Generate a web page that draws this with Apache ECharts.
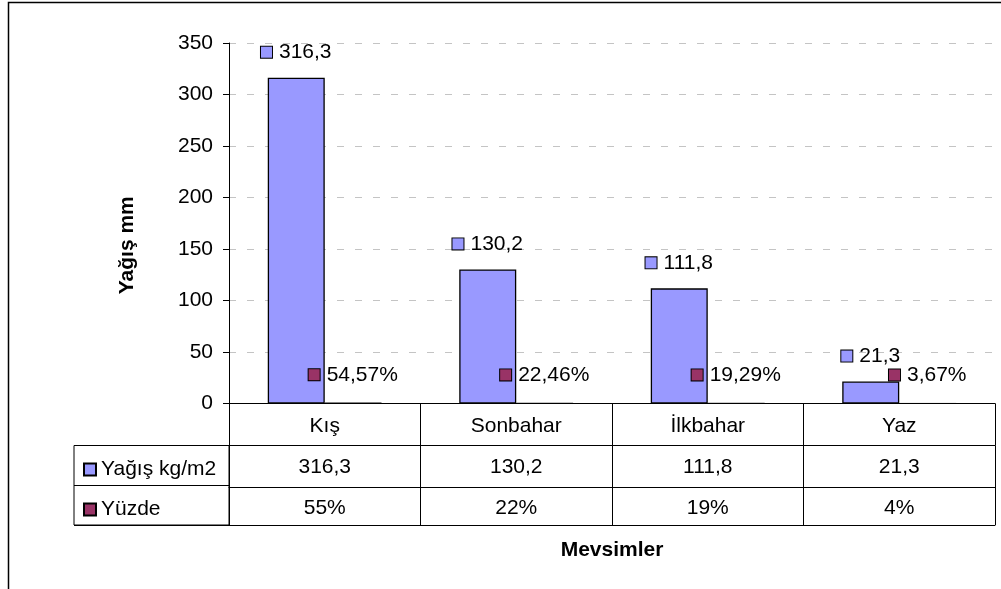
<!DOCTYPE html>
<html>
<head>
<meta charset="utf-8">
<script src="https://cdn.jsdelivr.net/npm/echarts@6/dist/echarts.min.js"></script>
<style>
html,body{margin:0;padding:0;background:#fff;}
#chart{width:1001px;height:589px;}
</style>
</head>
<body>
<div id="chart"></div>
<script>
const categories = ['Kış', 'Sonbahar', 'İlkbahar', 'Yaz'];
const seriesNames = ['Yağış kg/m2', 'Yüzde'];
const yagis = [316.3, 130.2, 111.8, 21.3];
const yuzde = [0.5457, 0.2246, 0.1929, 0.0367];
const yMin = 0, yMax = 350, yStep = 50;
const yAxisTitle = 'Yağış mm';
const xAxisTitle = 'Mevsimler';

const FONT = '"Liberation Sans", Arial, sans-serif';
const FS = 21, LH = 22;
const C1 = '#9999ff', C2 = '#993366';
const fmtNum = v => v.toFixed(1).replace('.', ',');
const fmtPctLabel = v => (v * 100).toFixed(2).replace('.', ',') + '%';
const fmtPctTable = v => Math.round(v * 100) + '%';

const chart = echarts.init(document.getElementById('chart'), null, {renderer: 'canvas'});

const GL = 229, GT = 43, GH = 360.5, GR = 6;
const ROW1 = 42, ROW2 = 41.5, ROW3 = 38;

function tableAxis(data, offset, tickLen, margin, showTick) {
  return {
    type: 'category', gridIndex: 0, position: 'bottom', offset: offset,
    data: data,
    axisLine: {show: true, lineStyle: {color: '#000', width: 1}},
    axisTick: {show: showTick, length: tickLen, interval: 0, lineStyle: {color: '#000', width: 1}},
    axisLabel: {show: true, interval: 0, margin: margin, fontSize: FS, lineHeight: LH, color: '#000', fontFamily: FONT},
    splitLine: {show: false}
  };
}

function labelRich(color) {
  return {
    k: {width: 11, height: 11, backgroundColor: color, borderColor: '#000', borderWidth: 1, verticalAlign: 'middle'},
    t: {fontSize: FS, lineHeight: LH, color: '#000', fontFamily: FONT, padding: [0, 0, 0, 7], verticalAlign: 'middle'}
  };
}

const option = {
  animation: false,
  backgroundColor: '#fff',
  textStyle: {fontFamily: FONT},
  grid: [
    {left: GL, top: GT, right: GR, height: GH, containLabel: false},
    {left: 74, top: GT + GH + ROW1, width: GL - 74, height: ROW2 + ROW3, show: true, borderColor: '#000', borderWidth: 1, backgroundColor: 'transparent'}
  ],
  legend: {
    orient: 'vertical', left: 78, top: GT + GH + ROW1 + 8,
    itemWidth: 12, itemHeight: 12, itemGap: 18,
    icon: 'rect',
    data: seriesNames,
    textStyle: {fontSize: FS, lineHeight: LH, color: '#000', fontFamily: FONT},
    selectedMode: false
  },
  xAxis: [
    tableAxis(categories, 0, ROW1, 11.5, true),
    tableAxis(yagis.map(fmtNum), ROW1, ROW2, 11, true),
    tableAxis(yuzde.map(fmtPctTable), ROW1 + ROW2, ROW3, 10, true),
    Object.assign(tableAxis(categories, ROW1 + ROW2 + ROW3, 0, 0, false), {
      axisLabel: {show: false},
      name: xAxisTitle, nameLocation: 'middle', nameGap: 15,
      nameTextStyle: {fontSize: FS, fontWeight: 'bold', color: '#000', fontFamily: FONT}
    }),
    {type: 'value', gridIndex: 1, show: false}
  ],
  yAxis: [
    {
      type: 'value', gridIndex: 0, min: yMin, max: yMax, interval: yStep,
      axisLine: {show: true, lineStyle: {color: '#000', width: 1}},
      axisTick: {show: true, length: 6, lineStyle: {color: '#000'}},
      axisLabel: {margin: 16, fontSize: FS, color: '#000', fontFamily: FONT},
      splitLine: {show: true, lineStyle: {color: '#c4c4c4', width: 1, type: [7, 11]}},
      name: yAxisTitle, nameLocation: 'middle', nameGap: 91, nameRotate: 90,
      nameTextStyle: {fontSize: FS, fontWeight: 'bold', color: '#000', fontFamily: FONT, padding: [0, 44, 0, 0]}
    },
    {
      type: 'category', gridIndex: 1, data: seriesNames, inverse: true,
      axisLine: {show: false}, axisTick: {show: false}, axisLabel: {show: false},
      splitLine: {show: true, interval: 0, lineStyle: {color: '#000', width: 1}}
    }
  ],
  series: [
    {
      name: seriesNames[0], type: 'bar', xAxisIndex: 0, yAxisIndex: 0,
      data: yagis, barWidth: 57, barGap: '0%',
      itemStyle: {color: C1, borderColor: '#000', borderWidth: 1.3},
      label: {show: true, position: 'top', distance: 14.5,
        formatter: p => '{k|}{t|' + fmtNum(p.value) + '}', rich: labelRich(C1)}
    },
    {
      name: seriesNames[1], type: 'bar', xAxisIndex: 0, yAxisIndex: 0,
      data: yuzde, barWidth: 57, barGap: '0%',
      itemStyle: {color: C2, borderColor: '#000', borderWidth: 1},
      label: {show: true, position: 'top', distance: 17,
        formatter: p => '{k|}{t|' + fmtPctLabel(p.value) + '}', rich: labelRich(C2)}
    }
  ],
  graphic: [
    {type: 'rect', shape: {x: 8.5, y: 2.5, width: 1010, height: 620}, style: {fill: 'none', stroke: '#000', lineWidth: 1.5}, silent: true, z: 100}
  ]
};
chart.setOption(option);
</script>
</body>
</html>
